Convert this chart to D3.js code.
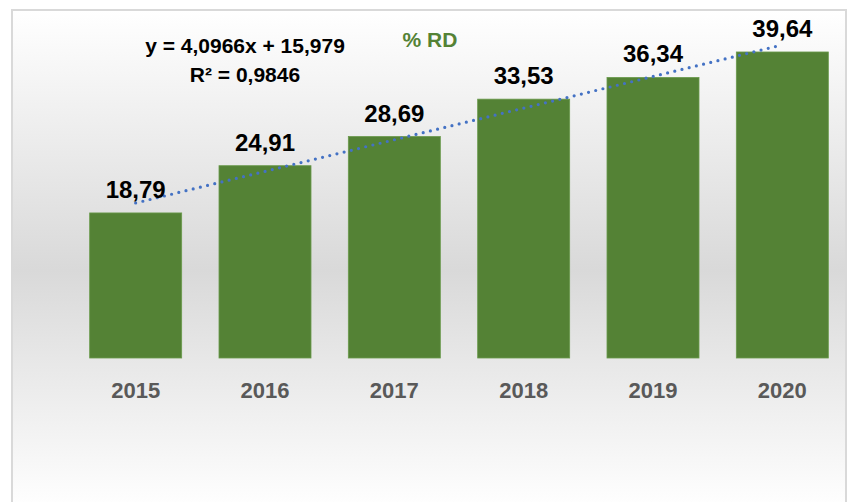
<!DOCTYPE html>
<html>
<head>
<meta charset="utf-8">
<script src="https://cdn.jsdelivr.net/npm/d3@7"></script>
<style>
  body { margin: 0; background: #ffffff; }
  svg text { font-family: "Liberation Sans", Arial, sans-serif; font-weight: bold; }
</style>
</head>
<body>
<div id="chart"></div>
<script>
// values
var years = ["2015", "2016", "2017", "2018", "2019", "2020"];
var rdValues = [18.79, 24.91, 28.69, 33.53, 36.34, 39.64];
var seriesName = "% RD";
// linear trend shown on the chart
var trendSlope = 4.0966;
var trendIntercept = 15.979;
var trendLabel = ["y = 4,0966x + 15,979", "R² = 0,9846"];

var svgWidth = 848;
var svgHeight = 502;

var svg = d3.select("#chart").append("svg")
    .attr("width", svgWidth)
    .attr("height", svgHeight);

// background gradient like the excel chart area
var grad = svg.append("defs").append("linearGradient")
    .attr("id", "bg")
    .attr("x1", 0).attr("y1", 0).attr("x2", 0).attr("y2", 1);
grad.append("stop").attr("offset", "0%").attr("stop-color", "#ffffff");
grad.append("stop").attr("offset", "52%").attr("stop-color", "#d9d9d9");
grad.append("stop").attr("offset", "100%").attr("stop-color", "#ffffff");

svg.append("rect")
    .attr("x", 12).attr("y", 10)
    .attr("width", 834).attr("height", 500)
    .attr("fill", "url(#bg)")
    .attr("stroke", "#d9d9d9")
    .attr("stroke-width", 2);

// scales
var xScale = d3.scaleBand()
    .domain(years)
    .range([71, 847])
    .paddingInner(0.2886)
    .paddingOuter(0.1443);

var yScale = d3.scaleLinear()
    .domain([0, 45])
    .range([358, 10.6]);

// bars
svg.selectAll(".bar")
    .data(rdValues)
    .enter()
    .append("rect")
    .classed("bar", true)
    .attr("x", (d, i) => xScale(years[i]))
    .attr("y", d => yScale(d))
    .attr("width", xScale.bandwidth())
    .attr("height", d => yScale(0) - yScale(d))
    .attr("fill", "#548235")
    .attr("stroke", "#6a9a4c")
    .attr("stroke-width", 0.8);

// x axis, labels only
var xAxis = d3.axisBottom(xScale).tickSize(0).tickPadding(0);
var xg = svg.append("g")
    .attr("transform", `translate(0, ${yScale(0)})`)
    .call(xAxis);
xg.select(".domain").remove();
xg.selectAll("text")
    .attr("dy", 0)
    .attr("y", 40)
    .style("font-family", "'Liberation Sans', Arial, sans-serif")
    .style("font-weight", "bold")
    .style("font-size", "22px")
    .attr("fill", "#595959");

// dotted trendline
var trendPts = years.map((y, i) => [xScale(y) + xScale.bandwidth() / 2, yScale(trendSlope * (i + 1) + trendIntercept)]);
svg.append("path")
    .attr("d", d3.line()(trendPts))
    .attr("fill", "none")
    .attr("stroke", "#4472c4")
    .attr("stroke-width", 3.2)
    .attr("stroke-linecap", "round")
    .attr("stroke-dasharray", "0 7.4");

// data labels
var fmt = d => d.toFixed(2).replace(".", ",");
svg.selectAll(".vlabel")
    .data(rdValues)
    .enter()
    .append("text")
    .classed("vlabel", true)
    .attr("x", (d, i) => xScale(years[i]) + xScale.bandwidth() / 2)
    .attr("y", d => yScale(d) - 15)
    .attr("text-anchor", "middle")
    .attr("fill", "#000000")
    .style("font-size", "24px")
    .text(fmt);

// trend equation
svg.selectAll(".eq")
    .data(trendLabel)
    .enter()
    .append("text")
    .classed("eq", true)
    .attr("x", 245)
    .attr("y", (d, i) => 53 + i * 29)
    .attr("text-anchor", "middle")
    .attr("fill", "#000000")
    .style("font-size", "21px")
    .text(d => d);

// series title / legend
svg.append("text")
    .attr("x", 430)
    .attr("y", 47)
    .attr("text-anchor", "middle")
    .attr("fill", "#548235")
    .style("font-size", "21px")
    .text(seriesName);
</script>
</body>
</html>
